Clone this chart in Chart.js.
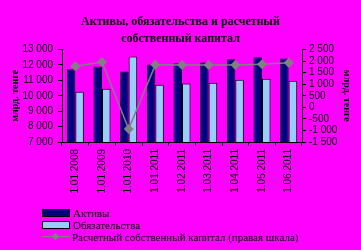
<!DOCTYPE html>
<html lang="ru">
<head>
<meta charset="UTF-8">
<title>Активы, обязательства и расчетный собственный капитал</title>
<script src="https://cdn.jsdelivr.net/npm/chart.js"></script>
<style>
  html, body { margin: 0; padding: 0; background: #ff00ff; }
  #wrap { position: relative; width: 361px; height: 250px; }
  #legend { position: absolute; left: 42px; top: 207px; font: 11px "Liberation Serif", serif; color: #000; }
  .row { height: 12px; display: flex; align-items: center; white-space: nowrap; }
  .sw { width: 26px; height: 6px; border: 1px solid #000; margin-right: 3px; }
  .ln { width: 28px; height: 8px; margin-right: 2px; position: relative; }
  .ln::before { content: ""; position: absolute; left: 0; right: 0; top: 3px; height: 1px; background: #808080; }
  .ln::after { content: ""; position: absolute; left: 11px; top: 1px; width: 5px; height: 5px; background: #808080; transform: rotate(45deg); }
</style>
</head>
<body>
<div id="wrap">
  <canvas id="chart" width="361" height="250"></canvas>
  <div id="legend"></div>
</div>
<script>
const titleLines = ['Активы, обязательства и расчетный', 'собственный капитал'];
const labels = ['1.01.2008', '1.01.2009', '1.01.2010', '1.01.2011', '1.02.2011', '1.03.2011', '1.04.2011', '1.05.2011', '1.06.2011'];
const assets = [11730, 11900, 11570, 12040, 12120, 12170, 12370, 12500, 12430];
const liabilities = [10260, 10450, 12560, 10720, 10800, 10850, 11050, 11110, 10980];
const capital = [1780, 1960, -940, 1840, 1830, 1830, 1830, 1870, 1930];
const seriesNames = ['Активы', 'Обязательства', 'Расчетный собственный капитал (правая шкала)'];
const axisTitle = 'млрд. тенге';

const colors = ['#000080', '#99ccff', '#808080'];

function fmt(v) {
  const s = String(Math.abs(v)).replace(/\B(?=(\d{3})+(?!\d))/g, ' ');
  return (v < 0 ? '-' : '') + s;
}

const tickFont = { family: 'Liberation Sans', size: 10 };
const titleFont = { family: 'Liberation Serif', size: 10, weight: 'bold' };

new Chart(document.getElementById('chart'), {
  type: 'bar',
  data: {
    labels: labels,
    datasets: [
      {
        type: 'line', label: seriesNames[2], data: capital, yAxisID: 'y1', order: 0,
        borderColor: colors[2], borderWidth: 1.5, backgroundColor: colors[2],
        pointStyle: 'rectRot', pointRadius: 5, pointBorderWidth: 0, tension: 0
      },
      {
        label: seriesNames[0], data: assets, yAxisID: 'y', order: 1,
        backgroundColor: colors[0], borderColor: '#000', borderWidth: 1,
        categoryPercentage: 0.64, barPercentage: 1
      },
      {
        label: seriesNames[1], data: liabilities, yAxisID: 'y', order: 1,
        backgroundColor: colors[1], borderColor: '#000', borderWidth: 1,
        categoryPercentage: 0.64, barPercentage: 1
      }
    ]
  },
  options: {
    responsive: false,
    animation: false,
    layout: { padding: 0 },
    plugins: {
      legend: { display: false },
      tooltip: { enabled: false },
      title: {
        display: true, text: titleLines, color: '#000',
        font: { family: 'Liberation Serif', size: 12, weight: 'bold', lineHeight: 1.4 },
        padding: { top: 14, bottom: 2 }
      }
    },
    scales: {
      x: {
        grid: { drawOnChartArea: false, color: '#000', tickLength: 4 },
        border: { color: '#000' },
        ticks: { color: '#000', font: tickFont, minRotation: 90, maxRotation: 90, padding: 3, autoSkip: false },
        afterFit: s => { s.height = 108; }
      },
      y: {
        position: 'left', min: 7000, max: 13000,
        grid: { drawOnChartArea: false, color: '#000', tickLength: 4 },
        border: { color: '#000' },
        ticks: { stepSize: 1000, color: '#000', font: tickFont, padding: 5, autoSkip: false, callback: v => fmt(v) },
        title: { display: true, text: axisTitle, color: '#000', font: titleFont, padding: { top: 9, bottom: 0 } },
        afterFit: s => { s.width = 62; }
      },
      y1: {
        position: 'right', min: -1500, max: 2500,
        grid: { drawOnChartArea: false, color: '#000', tickLength: 4 },
        border: { color: '#000' },
        ticks: { stepSize: 500, color: '#000', font: tickFont, padding: 3, autoSkip: false, callback: v => fmt(v) },
        title: { display: true, text: axisTitle, color: '#000', font: titleFont, padding: { top: 8, bottom: 0 } },
        afterFit: s => { s.width = 59; }
      }
    }
  }
});

// legend in a column, as in the original
const legend = document.getElementById('legend');
seriesNames.forEach((name, i) => {
  const row = document.createElement('div');
  row.className = 'row';
  const mark = document.createElement('span');
  if (i < 2) {
    mark.className = 'sw';
    mark.style.background = colors[i];
  } else {
    mark.className = 'ln';
  }
  row.appendChild(mark);
  row.appendChild(document.createTextNode(name));
  legend.appendChild(row);
});
</script>
</body>
</html>
